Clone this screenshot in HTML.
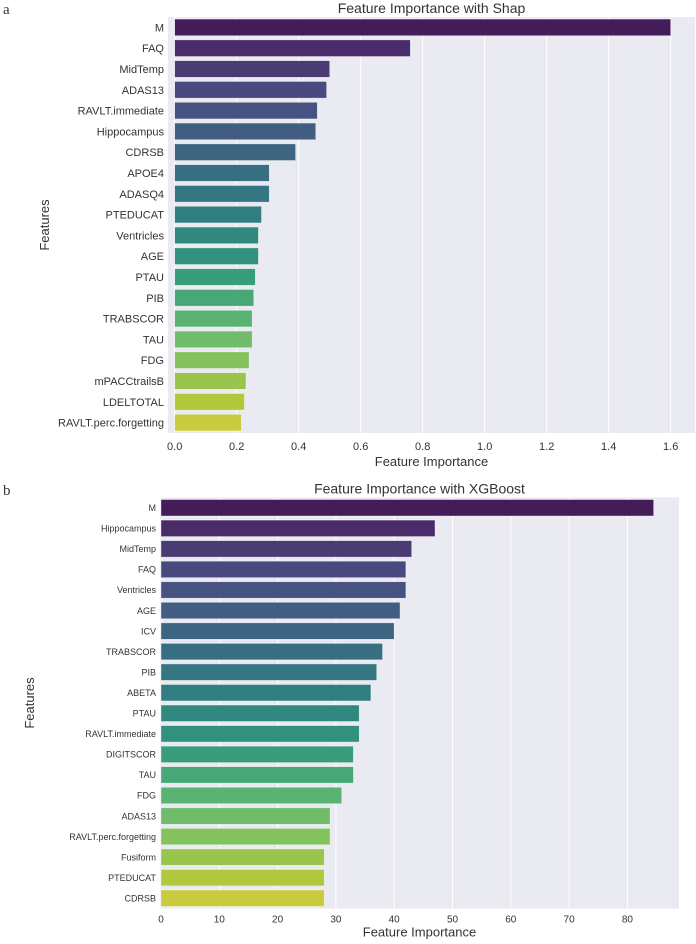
<!DOCTYPE html>
<html><head><meta charset="utf-8"><style>
body{margin:0;background:#fff;width:696px;height:944px;overflow:hidden}
svg{position:absolute;left:0;top:0}
text{font-family:"Liberation Sans",sans-serif;fill:#333}
</style></head><body>
<svg id="chart" width="696" height="944" viewBox="0 0 696 944">
<text x="3" y="14" style="font-family:'Liberation Serif',serif;font-size:15px" fill="#222">a</text>
<text x="3" y="495" style="font-family:'Liberation Serif',serif;font-size:15px" fill="#222">b</text>
</svg>
<script>
const shapFeatures=["M","FAQ","MidTemp","ADAS13","RAVLT.immediate","Hippocampus","CDRSB","APOE4","ADASQ4","PTEDUCAT","Ventricles","AGE","PTAU","PIB","TRABSCOR","TAU","FDG","mPACCtrailsB","LDELTOTAL","RAVLT.perc.forgetting"];
const shapValues=[1.60,0.76,0.50,0.49,0.46,0.455,0.39,0.305,0.305,0.28,0.27,0.27,0.26,0.255,0.25,0.25,0.24,0.23,0.225,0.215];
const shapTicks=["0.0","0.2","0.4","0.6","0.8","1.0","1.2","1.4","1.6"];
const xgbFeatures=["M","Hippocampus","MidTemp","FAQ","Ventricles","AGE","ICV","TRABSCOR","PIB","ABETA","PTAU","RAVLT.immediate","DIGITSCOR","TAU","FDG","ADAS13","RAVLT.perc.forgetting","Fusiform","PTEDUCAT","CDRSB"];
const xgbValues=[84.5,47,43,42,42,41,40,38,37,36,34,34,33,33,31,29,29,28,28,28];
const xgbTicks=["0","10","20","30","40","50","60","70","80"];

const NS="http://www.w3.org/2000/svg";
const svg=document.getElementById('chart');
const vir=["#440154","#482475","#414487","#355f8d","#2a788e","#21918c","#22a884","#44bf70","#7ad151","#bddf26","#fde725"];
function hex2rgb(h){return [1,3,5].map(i=>parseInt(h.substr(i,2),16)/255);}
function viridis(t){const p=t*10,i=Math.min(9,Math.floor(p)),f=p-i;const a=hex2rgb(vir[i]),b=hex2rgb(vir[i+1]);return a.map((v,k)=>v+(b[k]-v)*f);}
function desat([r,g,b],s){const mx=Math.max(r,g,b),mn=Math.min(r,g,b),l=(mx+mn)/2;if(mx===mn)return [r,g,b];
 const d=mx-mn;let S=l>0.5?d/(2-mx-mn):d/(mx+mn);let h;
 if(mx===r)h=((g-b)/d+(g<b?6:0));else if(mx===g)h=(b-r)/d+2;else h=(r-g)/d+4;h/=6;S*=s;
 const q=l<0.5?l*(1+S):l+S-l*S,pp=2*l-q;
 const hue=t=>{if(t<0)t+=1;if(t>1)t-=1;if(t<1/6)return pp+(q-pp)*6*t;if(t<1/2)return q;if(t<2/3)return pp+(q-pp)*(2/3-t)*6;return pp;};
 return [hue(h+1/3),hue(h),hue(h-1/3)];}
function col(i,n){const c=desat(viridis((i+1)/(n+1)),0.75);return 'rgb('+c.map(v=>Math.round(v*255)).join(',')+')';}
function el(tag,attrs){const e=document.createElementNS(NS,tag);for(const k in attrs)e.setAttribute(k,attrs[k]);svg.appendChild(e);return e;}

function drawChart(cfg,feats,vals,ticks){
 const xs=v=>cfg.x0+(v-0)*cfg.pxPerUnit;
 const n=feats.length,step=(cfg.bottom-cfg.top)/n;
 const ys=i=>cfg.top+step*(i+0.5);
 const bg=el('rect',{x:cfg.left,y:cfg.top,width:cfg.right-cfg.left,height:cfg.bottom-cfg.top,fill:'#eaeaf2'});
 
 
 ticks.forEach((t,i)=>{const v=parseFloat(t),x=xs(v);
  const g=el('line',{x1:x,x2:x,y1:cfg.top,y2:cfg.bottom,stroke:'#fff','stroke-width':1});
  
  
  const tl=el('text',{x:x,y:cfg.bottom+cfg.tickDy,'text-anchor':'middle','font-size':cfg.tickFs});
  tl.textContent=t;
  
  
 });
 feats.forEach((f,i)=>{const h=step*0.8,y=ys(i)-h/2;
  const r=el('rect',{x:xs(0),y:y,width:xs(vals[i])-xs(0),height:h,fill:col(i,n),stroke:'rgba(255,255,255,0.6)','stroke-width':0.6});
  
  
  const t=el('text',{x:cfg.left-4,y:ys(i)+cfg.labFs*0.36,'text-anchor':'end','font-size':cfg.labFs});
  t.textContent=f;
  
  
 });
 const ti=el('text',{x:(cfg.left+cfg.right)/2,y:cfg.top-4,'text-anchor':'middle','font-size':14});
 ti.textContent=cfg.title;
 
 
 const xl=el('text',{x:(cfg.left+cfg.right)/2,y:cfg.bottom+cfg.xlDy,'text-anchor':'middle','font-size':13});
 xl.textContent='Feature Importance';
 
 
 const cy=(cfg.top+cfg.bottom)/2;
 const yl=el('text',{x:cfg.ylX,y:cy,'text-anchor':'middle','font-size':13,transform:'rotate(-90 '+cfg.ylX+' '+cy+')'});
 yl.textContent='Features';
 
 
}
drawChart({id:'shap',title:'Feature Importance with Shap',left:168,right:695,top:17,bottom:433,x0:174.7,pxPerUnit:310,tickFs:11,labFs:11,tickDy:17,xlDy:33,ylX:49},shapFeatures,shapValues,shapTicks);
drawChart({id:'xgb',title:'Feature Importance with XGBoost',left:160,right:679,top:497.5,bottom:908.5,x0:161,pxPerUnit:5.83,tickFs:10,labFs:9,tickDy:14,xlDy:28,ylX:34},xgbFeatures,xgbValues,xgbTicks);
</script>
</body></html>
